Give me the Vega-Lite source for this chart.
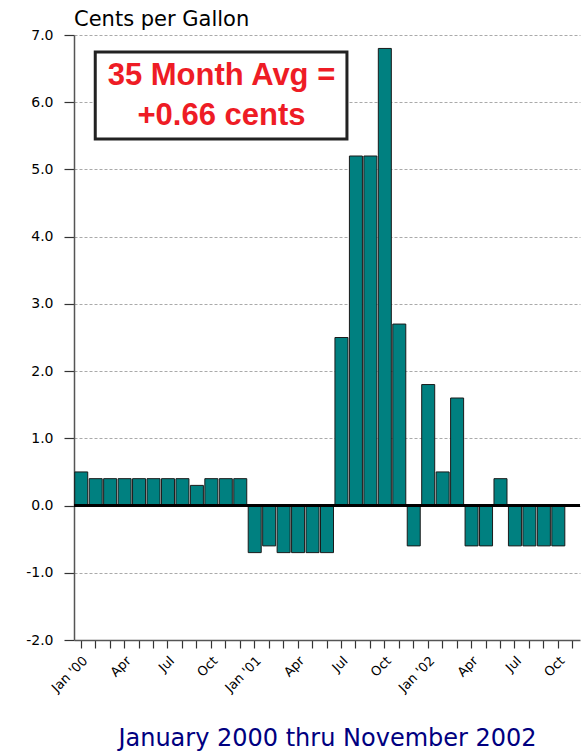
{
  "$schema": "https://vega.github.io/schema/vega-lite/v6.json",
  "width": 506,
  "height": 605,
  "autosize": {"type": "none"},
  "padding": {"left": 74, "top": 35, "right": 7, "bottom": 111},
  "background": "white",
  "config": {"view": {"stroke": null}, "font": "DejaVu Sans"},
  "title": {"text": "Cents per Gallon", "anchor": "start", "frame": "group", "offset": -2, "fontSize": 21, "fontWeight": "normal", "font": "DejaVu Sans", "color": "#000"},
  "data": {"values": [
    {"m": "2000-01", "v": 0.5}, {"m": "2000-02", "v": 0.4}, {"m": "2000-03", "v": 0.4}, {"m": "2000-04", "v": 0.4},
    {"m": "2000-05", "v": 0.4}, {"m": "2000-06", "v": 0.4}, {"m": "2000-07", "v": 0.4}, {"m": "2000-08", "v": 0.4},
    {"m": "2000-09", "v": 0.3}, {"m": "2000-10", "v": 0.4}, {"m": "2000-11", "v": 0.4}, {"m": "2000-12", "v": 0.4},
    {"m": "2001-01", "v": -0.7}, {"m": "2001-02", "v": -0.6}, {"m": "2001-03", "v": -0.7}, {"m": "2001-04", "v": -0.7},
    {"m": "2001-05", "v": -0.7}, {"m": "2001-06", "v": -0.7}, {"m": "2001-07", "v": 2.5}, {"m": "2001-08", "v": 5.2},
    {"m": "2001-09", "v": 5.2}, {"m": "2001-10", "v": 6.8}, {"m": "2001-11", "v": 2.7}, {"m": "2001-12", "v": -0.6},
    {"m": "2002-01", "v": 1.8}, {"m": "2002-02", "v": 0.5}, {"m": "2002-03", "v": 1.6}, {"m": "2002-04", "v": -0.6},
    {"m": "2002-05", "v": -0.6}, {"m": "2002-06", "v": 0.4}, {"m": "2002-07", "v": -0.6}, {"m": "2002-08", "v": -0.6},
    {"m": "2002-09", "v": -0.6}, {"m": "2002-10", "v": -0.6}, {"m": "2002-11", "v": 0}
  ]},
  "resolve": {"scale": {"x": "independent"}, "axis": {"x": "independent"}},
  "layer": [
    {
      "mark": {"type": "bar", "fill": "#008080", "stroke": "#1a1a1a", "strokeWidth": 1},
      "encoding": {
        "x": {
          "field": "m", "type": "ordinal", "sort": null,
          "scale": {"paddingInner": 0.1, "paddingOuter": 0.05},
          "axis": {
            "title": "January 2000 thru November 2002",
            "titleFont": "DejaVu Sans", "titleFontSize": 24, "titleFontWeight": "normal", "titleColor": "#000080",
            "titlePadding": 32,
            "labelAngle": -45,
            "labelExpr": "slice(datum.value,5)=='01' ? \"Jan '\" + slice(datum.value,2,4) : slice(datum.value,5)=='04' ? 'Apr' : slice(datum.value,5)=='07' ? 'Jul' : slice(datum.value,5)=='10' ? 'Oct' : ''",
            "labelFont": "DejaVu Sans", "labelFontSize": 13, "labelColor": "#000", "labelPadding": 6,
            "tickSize": 8, "tickColor": "#333", "tickWidth": 1.2,
            "domainColor": "#555", "domainWidth": 1.5,
            "grid": false
          }
        },
        "y": {
          "field": "v", "type": "quantitative",
          "scale": {"domain": [-2, 7], "nice": false, "zero": false},
          "axis": {
            "title": null,
            "values": [-2, -1.5, -1, -0.5, 0, 0.5, 1, 1.5, 2, 2.5, 3, 3.5, 4, 4.5, 5, 5.5, 6, 6.5, 7],
            "labelExpr": "datum.value % 1 == 0 ? (datum.value < 0 ? '-' : '') + format(abs(datum.value), '.1f') : ''",
            "labelFont": "DejaVu Sans", "labelFontSize": 14, "labelColor": "#000", "labelPadding": 11,
            "tickSize": {"condition": {"test": "datum.value % 1 == 0", "value": 10}, "value": 6},
            "tickColor": "#333", "tickWidth": 1.2,
            "domainColor": "#555", "domainWidth": 1.5,
            "grid": true, "gridColor": "#aaa", "gridDash": [3, 2], "gridWidth": 1,
            "gridOpacity": {"condition": {"test": "datum.value % 1 == 0 && datum.value > -2", "value": 1}, "value": 0}
          }
        }
      }
    },
    {
      "mark": {"type": "rule", "color": "#000", "strokeWidth": 1.5},
      "encoding": {"y": {"datum": 0, "type": "quantitative"}}
    },
    {
      "data": {"values": [{"note": "35 Month Avg =\n+0.66 cents"}]},
      "layer": [
        {
          "mark": {"type": "rect", "fill": "white", "stroke": "#222", "strokeWidth": 3},
          "encoding": {
            "x": {"datum": 1.47, "type": "quantitative", "scale": {"domain": [0, 35], "nice": false, "zero": false}, "axis": null},
            "x2": {"datum": 18.88},
            "y": {"datum": 6.747, "type": "quantitative"},
            "y2": {"datum": 5.453}
          }
        },
        {
          "mark": {"type": "text", "color": "#ee1c25", "font": "Liberation Sans", "fontSize": 31, "fontWeight": "bold", "align": "center", "baseline": "alphabetic", "lineBreak": "\n", "lineHeight": 40},
          "encoding": {
            "x": {"datum": 10.2, "type": "quantitative"},
            "y": {"datum": 6.256, "type": "quantitative"},
            "text": {"field": "note"}
          }
        }
      ]
    }
  ]
}
